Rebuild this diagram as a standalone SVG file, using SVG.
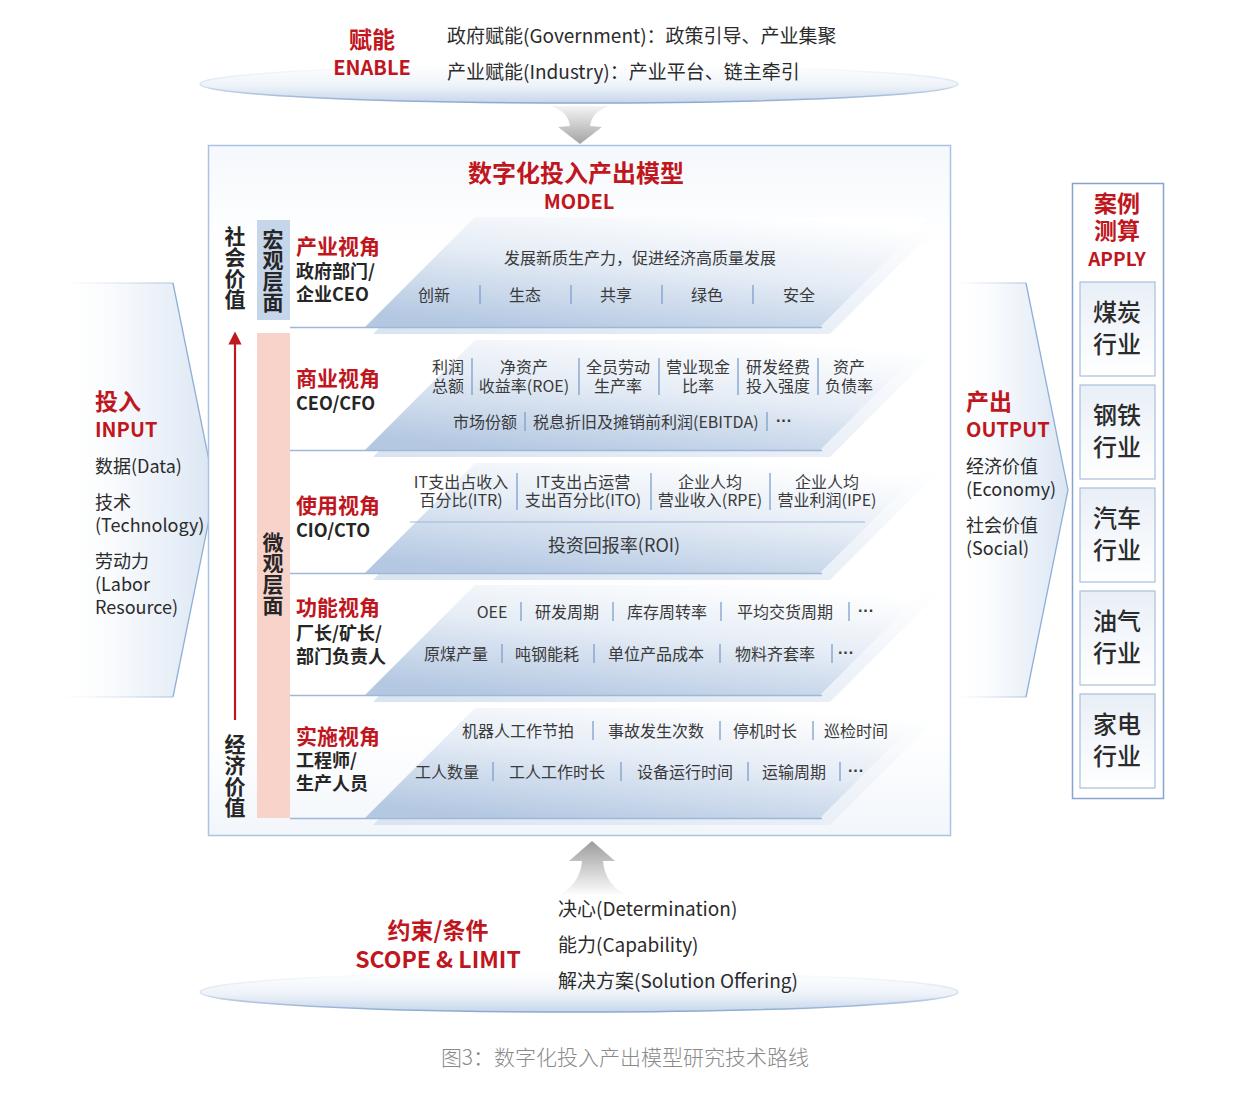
<svg xmlns="http://www.w3.org/2000/svg" width="1245" height="1105" viewBox="0 0 1245 1105">
<defs>
<linearGradient id="gPara" x1="0.75" y1="0" x2="0.25" y2="1">
<stop offset="0" stop-color="#ffffff"/>
<stop offset="0.45" stop-color="#e6edf6"/>
<stop offset="1" stop-color="#b4c8e2"/>
</linearGradient>
<linearGradient id="gBack" x1="0" y1="1" x2="1" y2="0">
<stop offset="0" stop-color="#d9e4f1"/>
<stop offset="1" stop-color="#ffffff"/>
</linearGradient>
<linearGradient id="gEll" x1="0" y1="0" x2="0" y2="1">
<stop offset="0" stop-color="#ffffff"/>
<stop offset="0.55" stop-color="#eef3f9"/>
<stop offset="1" stop-color="#c6d6eb"/>
</linearGradient>
<linearGradient id="gEllStroke" x1="0" y1="0" x2="0" y2="1">
<stop offset="0" stop-color="#ffffff"/>
<stop offset="0.5" stop-color="#d8e3f0"/>
<stop offset="1" stop-color="#8aa8cf"/>
</linearGradient>
<linearGradient id="gChevL" x1="0" y1="0" x2="1" y2="0">
<stop offset="0" stop-color="#ffffff" stop-opacity="0"/>
<stop offset="0.4" stop-color="#f6f9fc"/>
<stop offset="1" stop-color="#dbe6f3"/>
</linearGradient>
<linearGradient id="gEdgeL" x1="0" y1="0" x2="1" y2="0">
<stop offset="0" stop-color="#c4d4e8" stop-opacity="0"/>
<stop offset="1" stop-color="#a9c0de"/>
</linearGradient>
<linearGradient id="gArrowDown" x1="0" y1="0" x2="0" y2="1">
<stop offset="0" stop-color="#f4f4f4"/>
<stop offset="1" stop-color="#a3a3a3"/>
</linearGradient>
<linearGradient id="gArrowUp" x1="0" y1="0" x2="0" y2="1">
<stop offset="0" stop-color="#9c9c9c"/>
<stop offset="1" stop-color="#ffffff"/>
</linearGradient>
<linearGradient id="gModel" x1="0" y1="0" x2="0" y2="1">
<stop offset="0" stop-color="#f5f8fc"/>
<stop offset="0.15" stop-color="#ffffff"/>
<stop offset="0.85" stop-color="#ffffff"/>
<stop offset="1" stop-color="#f2f6fb"/>
</linearGradient>
<linearGradient id="gCase" x1="0" y1="0" x2="0" y2="1">
<stop offset="0" stop-color="#e9eff7"/>
<stop offset="1" stop-color="#ffffff"/>
</linearGradient>
<marker id="mRed" viewBox="0 0 10 10" refX="5" refY="5" markerWidth="6" markerHeight="6" orient="auto" markerUnits="strokeWidth">
<path d="M0,0 L10,5 L0,10 Z" fill="#c0161e"/>
</marker>
<style>
text { font-family: "Noto Sans CJK SC", "Noto Sans", "Liberation Sans", sans-serif; }
.red { fill: #c0161e; font-weight: bold; }
.lbl { fill: #262626; font-size: 18px; font-weight: 600; }
.it { fill: #3a3a3a; font-size: 16px; }
.big { font-size: 18px; }
.dots { font-family: "Liberation Sans", sans-serif; fill: #3a3a3a; font-size: 16px; font-weight: bold; }
.sep { stroke: #9fb8d8; stroke-width: 1.5; }
.bar { stroke: #7e9fcb; stroke-width: 1.3; }
.para { fill: url(#gPara); }
.back { fill: url(#gBack); }
.vt { fill: #262626; font-size: 21px; font-weight: bold; writing-mode: vertical-rl; }
.case { fill: url(#gCase); stroke: #a9bfdc; stroke-width: 1.2; }
.ct { fill: #2b2b2b; font-size: 24px; font-weight: 500; }
.side { fill: #2b2b2b; font-size: 18px; }
.band { fill: #2b2b2b; font-size: 19px; }
</style>
</defs>

<rect width="1245" height="1105" fill="#ffffff"/>

<!-- top banner -->
<g id="banner-top">
<ellipse cx="579" cy="84" rx="379" ry="19" fill="url(#gEll)" stroke="url(#gEllStroke)" stroke-width="1.5"/>
<text x="372" y="48" text-anchor="middle" class="red" font-size="23">赋能</text>
<text x="372" y="75" text-anchor="middle" class="red" font-size="20">ENABLE</text>
<text x="447" y="43" class="band">政府赋能(Government)：政策引导、产业集聚</text>
<text x="447" y="79" class="band">产业赋能(Industry)：产业平台、链主牵引</text>
</g>

<!-- input -->
<g id="input">
<path d="M60,283 L173,283 L215,490 L173,697 L60,697 Z" fill="url(#gChevL)"/>
<path d="M60,283 L173,283 M60,697 L173,697" stroke="url(#gEdgeL)" stroke-width="1.2" fill="none"/>
<path d="M173,283 L215,490 L173,697" stroke="#8fb0d6" stroke-width="1.3" fill="none"/>
<text x="95" y="410" class="red" font-size="23">投入</text>
<text x="95" y="437" class="red" font-size="20">INPUT</text>
<text class="side"><tspan x="95" y="473">数据(Data)</tspan><tspan x="95" y="509">技术</tspan><tspan x="95" y="532">(Technology)</tspan><tspan x="95" y="568">劳动力</tspan><tspan x="95" y="591">(Labor</tspan><tspan x="95" y="614">Resource)</tspan></text>
</g>

<!-- output -->
<g id="output">
<path d="M955,283 L1026,283 L1068,490 L1026,697 L955,697 Z" fill="url(#gChevL)"/>
<path d="M955,283 L1026,283 M955,697 L1026,697" stroke="url(#gEdgeL)" stroke-width="1.2" fill="none"/>
<path d="M1026,283 L1068,490 L1026,697" stroke="#8fb0d6" stroke-width="1.3" fill="none"/>
<text x="966" y="410" class="red" font-size="23">产出</text>
<text x="966" y="437" class="red" font-size="20">OUTPUT</text>
<text class="side"><tspan x="966" y="473">经济价值</tspan><tspan x="966" y="496">(Economy)</tspan><tspan x="966" y="532">社会价值</tspan><tspan x="966" y="555">(Social)</tspan></text>
</g>

<!-- model frame -->
<g id="model">
<rect x="208.5" y="145.5" width="742" height="690" fill="url(#gModel)" stroke="#a9c3e1" stroke-width="1.5"/>
<text x="576" y="182" text-anchor="middle" class="red" font-size="24">数字化投入产出模型</text>
<text x="579" y="209" text-anchor="middle" class="red" font-size="20">MODEL</text>
<g id="value-axis">
<text x="235" y="226" class="vt">社会价值</text>
<text x="235" y="734" class="vt">经济价值</text>
</g>
<g id="macro">
<rect x="257" y="220" width="33" height="100" fill="#c6d6ea"/>
<text x="273" y="229" class="vt">宏观层面</text>
</g>
<g id="micro">
<rect x="257" y="333" width="33" height="485" fill="#f8d3ca"/>
<text x="273" y="532" class="vt">微观层面</text>
</g>
</g>

<!-- row 1 -->
<g id="row1">
<polygon class="back" points="373,334 483,224 940,224 830,334"/>
<polygon class="para" points="365,327 475,217 930,217 820,327"/>
<line class="sep" x1="290" y1="327.5" x2="822" y2="327.5"/>
<text x="296" y="254" class="red" font-size="21">产业视角</text>
<text class="lbl"><tspan x="296" y="278">政府部门/</tspan><tspan x="296" y="301">企业CEO</tspan></text>
<text x="640" y="264" text-anchor="middle" class="it">发展新质生产力，促进经济高质量发展</text>
<g text-anchor="middle">
<text x="434" y="301" class="it">创新</text>
<text x="525" y="301" class="it">生态</text>
<text x="616" y="301" class="it">共享</text>
<text x="707" y="301" class="it">绿色</text>
<text x="799" y="301" class="it">安全</text>
</g>
<path class="bar" d="M480,285 V304 M571,285 V304 M662,285 V304 M753,285 V304"/>
</g>

<!-- row 2 -->
<g id="row2">
<polygon class="back" points="373,457 483,347 940,347 830,457"/>
<polygon class="para" points="365,450 475,340 930,340 820,450"/>
<line class="sep" x1="290" y1="450.5" x2="822" y2="450.5"/>
<text x="296" y="386" class="red" font-size="21">商业视角</text>
<text x="296" y="410" class="lbl">CEO/CFO</text>
<g text-anchor="middle">
<text class="it"><tspan x="448" y="373">利润</tspan><tspan x="448" y="392">总额</tspan></text>
<text class="it"><tspan x="524" y="373">净资产</tspan><tspan x="524" y="392">收益率(ROE)</tspan></text>
<text class="it"><tspan x="618" y="373">全员劳动</tspan><tspan x="618" y="392">生产率</tspan></text>
<text class="it"><tspan x="698" y="373">营业现金</tspan><tspan x="698" y="392">比率</tspan></text>
<text class="it"><tspan x="778" y="373">研发经费</tspan><tspan x="778" y="392">投入强度</tspan></text>
<text class="it"><tspan x="849" y="373">资产</tspan><tspan x="849" y="392">负债率</tspan></text>
</g>
<path class="bar" d="M472,358 V395 M579,358 V395 M659,358 V395 M738,358 V395 M818,358 V395"/>
<text x="453" y="428" class="it">市场份额</text>
<text x="533" y="428" class="it">税息折旧及摊销前利润(EBITDA)</text>
<text x="776" y="426" class="dots">···</text>
<path class="bar" d="M525,412 V431 M767,412 V431"/>
</g>

<!-- row 3 -->
<g id="row3">
<polygon class="back" points="373,580 483,470 940,470 830,580"/>
<polygon class="para" points="365,573 475,463 930,463 820,573"/>
<line class="sep" x1="290" y1="573.5" x2="822" y2="573.5"/>
<line x1="410" y1="522" x2="865" y2="522" stroke="#9fb8d8" stroke-width="1"/>
<text x="296" y="513" class="red" font-size="21">使用视角</text>
<text x="296" y="537" class="lbl">CIO/CTO</text>
<g text-anchor="middle">
<text class="it"><tspan x="461" y="488">IT支出占收入</tspan><tspan x="461" y="506">百分比(ITR)</tspan></text>
<text class="it"><tspan x="583" y="488">IT支出占运营</tspan><tspan x="583" y="506">支出百分比(ITO)</tspan></text>
<text class="it"><tspan x="710" y="488">企业人均</tspan><tspan x="710" y="506">营业收入(RPE)</tspan></text>
<text class="it"><tspan x="827" y="488">企业人均</tspan><tspan x="827" y="506">营业利润(IPE)</tspan></text>
<text x="614" y="552" class="it big">投资回报率(ROI)</text>
</g>
<path class="bar" d="M517,473 V510 M651,473 V510 M770,473 V510"/>
</g>

<!-- row 4 -->
<g id="row4">
<polygon class="back" points="373,702 483,592 940,592 830,702"/>
<polygon class="para" points="365,695 475,585 930,585 820,695"/>
<line class="sep" x1="290" y1="695.5" x2="822" y2="695.5"/>
<text x="296" y="615" class="red" font-size="21">功能视角</text>
<text class="lbl"><tspan x="296" y="640">厂长/矿长/</tspan><tspan x="296" y="663">部门负责人</tspan></text>
<g text-anchor="middle">
<text x="492" y="618" class="it">OEE</text>
<text x="567" y="618" class="it">研发周期</text>
<text x="667" y="618" class="it">库存周转率</text>
<text x="785" y="618" class="it">平均交货周期</text>
<text x="866" y="616" class="dots">···</text>
<text x="456" y="660" class="it">原煤产量</text>
<text x="547" y="660" class="it">吨钢能耗</text>
<text x="656" y="660" class="it">单位产品成本</text>
<text x="775" y="660" class="it">物料齐套率</text>
<text x="846" y="658" class="dots">···</text>
</g>
<path class="bar" d="M521,602 V621 M613,602 V621 M721,602 V621 M849,602 V621 M502,644 V663 M594,644 V663 M720,644 V663 M832,644 V663"/>
</g>

<!-- row 5 -->
<g id="row5">
<polygon class="back" points="373,825 483,715 940,715 830,825"/>
<polygon class="para" points="365,818 475,708 930,708 820,818"/>
<line class="sep" x1="290" y1="818.5" x2="822" y2="818.5"/>
<text x="296" y="744" class="red" font-size="21">实施视角</text>
<text class="lbl"><tspan x="296" y="767">工程师/</tspan><tspan x="296" y="790">生产人员</tspan></text>
<g text-anchor="middle">
<text x="518" y="737" class="it">机器人工作节拍</text>
<text x="656" y="737" class="it">事故发生次数</text>
<text x="765" y="737" class="it">停机时长</text>
<text x="856" y="737" class="it">巡检时间</text>
<text x="447" y="778" class="it">工人数量</text>
<text x="557" y="778" class="it">工人工作时长</text>
<text x="685" y="778" class="it">设备运行时间</text>
<text x="794" y="778" class="it">运输周期</text>
<text x="856" y="776" class="dots">···</text>
</g>
<path class="bar" d="M593,721 V740 M720,721 V740 M813,721 V740 M493,762 V781 M621,762 V781 M748,762 V781 M840,762 V781"/>
</g>

<!-- apply -->
<g id="apply">
<rect x="1072.5" y="183.5" width="91" height="615" fill="#ffffff" stroke="#86a5cd" stroke-width="1.5"/>
<text class="red" font-size="23" text-anchor="middle"><tspan x="1117" y="212">案例</tspan><tspan x="1117" y="239">测算</tspan></text>
<text x="1117" y="266" text-anchor="middle" class="red" font-size="19">APPLY</text>
<g id="case-coal">
<rect class="case" x="1080" y="282" width="75" height="94"/>
<text class="ct" text-anchor="middle"><tspan x="1117" y="321">煤炭</tspan><tspan x="1117" y="353">行业</tspan></text>
</g>
<g id="case-steel">
<rect class="case" x="1080" y="385" width="75" height="94"/>
<text class="ct" text-anchor="middle"><tspan x="1117" y="424">钢铁</tspan><tspan x="1117" y="456">行业</tspan></text>
</g>
<g id="case-auto">
<rect class="case" x="1080" y="488" width="75" height="94"/>
<text class="ct" text-anchor="middle"><tspan x="1117" y="527">汽车</tspan><tspan x="1117" y="559">行业</tspan></text>
</g>
<g id="case-oil">
<rect class="case" x="1080" y="591" width="75" height="94"/>
<text class="ct" text-anchor="middle"><tspan x="1117" y="630">油气</tspan><tspan x="1117" y="662">行业</tspan></text>
</g>
<g id="case-appliance">
<rect class="case" x="1080" y="694" width="75" height="94"/>
<text class="ct" text-anchor="middle"><tspan x="1117" y="733">家电</tspan><tspan x="1117" y="765">行业</tspan></text>
</g>
</g>

<!-- bottom banner -->
<g id="banner-bottom">
<ellipse cx="579" cy="992" rx="379" ry="20" fill="url(#gEll)" stroke="url(#gEllStroke)" stroke-width="1.5"/>
<text x="438" y="939" text-anchor="middle" class="red" font-size="23">约束/条件</text>
<text x="438" y="968" text-anchor="middle" class="red" font-size="23">SCOPE &amp; LIMIT</text>
<text class="band"><tspan x="558" y="916">决心(Determination)</tspan><tspan x="558" y="952">能力(Capability)</tspan><tspan x="558" y="988">解决方案(Solution Offering)</tspan></text>
</g>

<!-- connectors -->
<g id="connectors">
<path d="M550,106 Q568,111 570,126 L558,127 L580,144 L602,127 L590,126 Q592,111 610,106 Z" fill="url(#gArrowDown)"/>
<path d="M592,841 L615,861 L603,861 Q605,885 628,896 L557,896 Q580,885 582,861 L569,861 Z" fill="url(#gArrowUp)"/>
<line x1="235" y1="720" x2="235" y2="338" stroke="#c0161e" stroke-width="2.2" marker-end="url(#mRed)"/>
</g>

<text id="caption" x="625" y="1065" text-anchor="middle" fill="#8a8a8a" font-size="21" font-weight="300">图3：数字化投入产出模型研究技术路线</text>
</svg>
